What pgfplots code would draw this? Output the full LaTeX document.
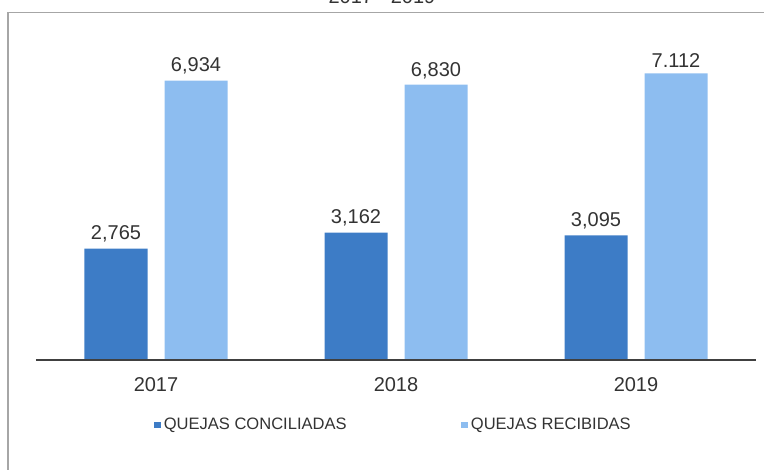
\documentclass[border=0pt]{standalone}
\usepackage{fontspec}
\setmainfont{Liberation Sans}
\usepackage{pgfplots}
\pgfplotsset{compat=1.18}
\definecolor{darkbar}{HTML}{3D7CC6}
\definecolor{lightbar}{HTML}{8DBDF0}
\definecolor{txt}{HTML}{333333}
\begin{document}
\begin{tikzpicture}
\useasboundingbox (-27pt,-82.5pt) rectangle (546pt,270pt);
\draw[gray!70, line width=0.8pt] (-21pt,-120pt) -- (-21pt,260.6pt) -- (600pt,260.6pt);
\node[anchor=base, font=\fontsize{15}{18}\selectfont, text=txt] at (259.5pt,267pt) {2017 - 2019};
\begin{axis}[
  at={(0,0)}, anchor=south west,
  scale only axis, width=540pt, height=241.8pt,
  xmin=-0.5, xmax=2.5, ymin=0, ymax=8000,
  axis lines=none,
  ybar, bar width=47.25pt, bar shift=0pt,
  xtick={0,1,2}, xticklabels={2017,2018,2019},
  ytick=\empty,
  /pgf/number format/assume math mode=true,
  clip=false,
  point meta=explicit symbolic,
  nodes near coords=\pgfplotspointmeta,
  every node near coord/.append style={font=\fontsize{15}{18}\selectfont, text=txt, yshift=1pt},
  legend style={at={(0.497,-0.2016)}, anchor=center, draw=none, fill=none,
    font=\fontsize{12.4}{14}\selectfont, text=txt,
    /tikz/every even column/.append style={column sep=84pt},
    inner sep=0pt},
  legend columns=2,
  legend image code/.code={\fill[#1] (0pt,-2.6pt) rectangle (5.2pt,2.6pt);},
]
\addplot[fill=darkbar, draw=none, bar shift=-30pt] coordinates {(0,2765)[2,765] (1,3162)[3,162] (2,3095)[3,095]};
\addplot[fill=lightbar, draw=none, bar shift=30pt] coordinates {(0,6934)[6,934] (1,6830)[6,830] (2,7112)[7.112]};
\legend{QUEJAS CONCILIADAS, QUEJAS RECIBIDAS}
\draw[black!75, line width=1.1pt] (axis cs:-0.5,0) -- (axis cs:2.5,0);
\node[font=\fontsize{15}{18}\selectfont, text=txt] at (axis cs:0,-620) {2017};
\node[font=\fontsize{15}{18}\selectfont, text=txt] at (axis cs:1,-620) {2018};
\node[font=\fontsize{15}{18}\selectfont, text=txt] at (axis cs:2,-620) {2019};
\end{axis}
\end{tikzpicture}
\end{document}
